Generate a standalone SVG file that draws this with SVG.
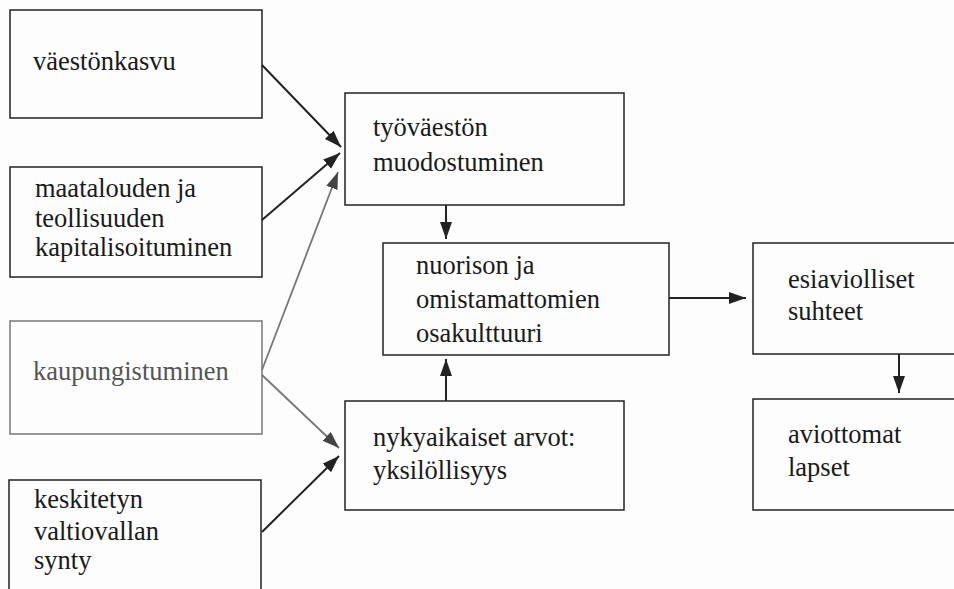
<svg xmlns="http://www.w3.org/2000/svg" width="954" height="589" viewBox="0 0 954 589">
<style>
.box{fill:none;stroke:#222;stroke-width:1.5}
.gbox{fill:none;stroke:#777;stroke-width:1.5}
text{font-family:'Liberation Serif','Times New Roman',serif;font-size:26.5px;fill:#1a1a1a}
.g{fill:#555}
.ln{stroke:#222;stroke-width:2;fill:none}
.gl{stroke:#777;stroke-width:1.8;fill:none}
</style>
<defs>
<marker id="ah" markerUnits="userSpaceOnUse" markerWidth="18" markerHeight="14" refX="17" refY="6" orient="auto">
<path d="M0,0 L17,6 L0,12 Z" fill="#222"/>
</marker>
<marker id="ahg" markerUnits="userSpaceOnUse" markerWidth="18" markerHeight="14" refX="17" refY="6" orient="auto">
<path d="M0,0 L17,6 L0,12 Z" fill="#444"/>
</marker>
</defs>
<rect width="954" height="589" fill="#fdfdfd"/>
<g id="n1"><rect class="box" x="10" y="10" width="252" height="108"/><text x="33" y="70">väestönkasvu</text></g>
<g id="n2"><rect class="box" x="10" y="167" width="252" height="110"/><text x="35" y="197">maatalouden ja</text><text x="35" y="227">teollisuuden</text><text x="35" y="256">kapitalisoituminen</text></g>
<g id="n3"><rect class="gbox" x="10" y="321" width="252" height="113"/><text class="g" x="33" y="380">kaupungistuminen</text></g>
<g id="n4"><path class="box" d="M9,595 V480 H261 V595"/><text x="34" y="508">keskitetyn</text><text x="34" y="540">valtiovallan</text><text x="34" y="569">synty</text></g>
<g id="n5"><rect class="box" x="345" y="93" width="279" height="112"/><text x="373" y="136">työväestön</text><text x="373" y="171">muodostuminen</text></g>
<g id="n6"><rect class="box" x="383" y="243" width="286" height="112"/><text x="416" y="274">nuorison ja</text><text x="416" y="308">omistamattomien</text><text x="416" y="342">osakulttuuri</text></g>
<g id="n7"><rect class="box" x="345" y="401" width="279" height="109"/><text x="373" y="446">nykyaikaiset arvot:</text><text x="373" y="479">yksilöllisyys</text></g>
<g id="n8"><rect class="box" x="753" y="243" width="215" height="111"/><text x="788" y="288">esiaviolliset</text><text x="788" y="320">suhteet</text></g>
<g id="n9"><rect class="box" x="753" y="399" width="215" height="111"/><text x="788" y="443">aviottomat</text><text x="788" y="476">lapset</text></g>
<g id="edges">
<line class="ln" x1="262" y1="65" x2="341" y2="147" marker-end="url(#ah)"/>
<line class="ln" x1="262" y1="220" x2="340" y2="153" marker-end="url(#ah)"/>
<line class="gl" x1="262" y1="370" x2="338" y2="172" marker-end="url(#ahg)"/>
<line class="gl" x1="262" y1="375" x2="339" y2="448" marker-end="url(#ahg)"/>
<line class="ln" x1="262" y1="532" x2="339" y2="456" marker-end="url(#ah)"/>
<line class="ln" x1="446" y1="205" x2="446" y2="239" marker-end="url(#ah)"/>
<line class="ln" x1="446" y1="401" x2="446" y2="359" marker-end="url(#ah)"/>
<line class="ln" x1="669" y1="298" x2="746" y2="298" marker-end="url(#ah)"/>
<line class="ln" x1="899" y1="354" x2="899" y2="393" marker-end="url(#ah)"/>
</g>
</svg>
